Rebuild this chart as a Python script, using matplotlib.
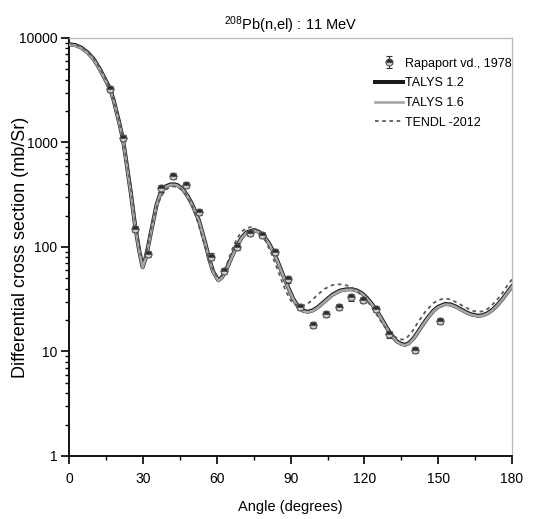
import numpy as np
import matplotlib
matplotlib.use("Agg")
import matplotlib.pyplot as plt
from matplotlib.ticker import FixedLocator, LogLocator, NullFormatter, FixedFormatter

plt.rcParams["font.family"] = ["Liberation Sans", "DejaVu Sans"]

# experimental data (Rapaport vd., 1978)
exp_angle = [16.6, 21.7, 26.9, 31.9, 37.1, 42.3, 47.5, 52.7, 57.7, 62.7, 68.1, 73.3,
             78.5, 83.6, 88.8, 93.8, 99.0, 104.2, 109.5, 114.5, 119.6, 124.8, 130.0,
             140.4, 150.8]
exp_xs = [3250, 1110, 149, 86, 365, 477, 394, 216, 81, 59, 101, 137,
          130, 90, 49, 26.8, 17.9, 22.9, 26.8, 33, 31.1, 25.4, 14.6,
          10.3, 19.7]
exp_err_frac = 0.07

# TALYS 1.2 calculation
talys12_angle = [0, 2.5, 5, 7.5, 10, 12.5, 15, 16.6, 18, 20, 21.7, 23, 25, 26.9, 28.5,
                 29.8, 31, 32, 33.5, 35.5, 37.1, 39, 41, 42.6, 44, 46, 48, 50, 52.7,
                 55, 57, 58.5, 60.6, 62, 64, 66, 68, 70, 72, 74.9, 77, 79, 81, 83,
                 85, 87, 89, 91, 93, 95, 97, 99, 101, 104, 107, 110, 112.5, 114.9,
                 117, 119, 121, 123, 125, 127, 129, 131, 133, 135, 136.6, 138, 140,
                 142, 144, 146, 148, 150, 152.8, 155, 157, 159, 161, 163, 166, 168,
                 170, 172, 174, 176, 178, 180]
talys12_xs = [8700, 8550, 8050, 7250, 6250, 5000, 3850, 3250, 2550, 1650, 1110, 700,
              330, 150, 90, 64, 78, 100, 150, 255, 330, 378, 396, 398, 390, 360, 310,
              255, 180, 115, 75, 58, 48, 51, 62, 80, 101, 122, 138, 145, 140, 128,
              110, 90, 70, 53, 41, 32, 27, 24.6, 24, 24.8, 26.5, 30.5, 35, 38.2, 39.3,
              39.4, 38.3, 36, 32.5, 28.5, 24.5, 20.5, 17, 14.3, 12.6, 11.8, 11.6, 12,
              13.4, 15.7, 18.5, 21.5, 24.5, 26.8, 28.5, 28.2, 27, 25.5, 24, 22.8,
              22, 22.2, 23.2, 25, 27.8, 31.5, 36.5, 42]

# TALYS 1.6 calculation (almost on top of 1.2)
talys16_angle = talys12_angle
talys16_xs = [v * 0.99 for v in talys12_xs]

# TENDL-2012
tendl_angle = [0, 2.5, 5, 7.5, 10, 12.5, 15, 17.5, 20, 22, 24, 26, 27.5, 29, 30.5,
               32, 34, 36, 38, 40, 42, 44, 46, 48, 50, 52, 54, 56, 58, 60, 62, 64,
               66, 68, 70, 72, 74, 76, 78, 80, 82, 84, 86, 88, 90, 92, 94, 96, 98,
               101, 104, 107, 110, 113, 116, 119, 122, 125, 128, 131, 134, 135.5,
               137, 139, 141, 143, 145, 148, 150, 152.5, 155, 158, 161, 164, 166,
               168, 170, 173, 176, 178, 180]
tendl_xs = [8950, 8650, 8150, 7350, 6350, 5100, 3950, 2800, 1700, 1030, 540, 250,
            140, 85, 78, 105, 180, 260, 325, 365, 380, 375, 350, 305, 245, 180, 125,
            88, 64, 52, 53, 68, 92, 118, 140, 152, 155, 148, 133, 112, 88, 67, 50,
            38, 31, 28, 27, 27.8, 30, 35, 40, 43.3, 44, 42.8, 39.5, 34.5, 28.5, 22.5,
            17.5, 14.5, 13.1, 13, 13.4, 15, 17.8, 21, 24.5, 29, 31, 32.2, 31.5, 29,
            26.5, 24.5, 24, 24.2, 25.5, 29.5, 36, 42.5, 49]


def main():
    fig = plt.figure(figsize=(5.39, 5.19), dpi=100)
    ax = fig.add_axes([0.1286, 0.1214, 0.8214, 0.8054])

    ax.plot(talys12_angle, talys12_xs, color="#1a1a1a", lw=2.9, label="TALYS 1.2", zorder=2)
    ax.plot(talys16_angle, talys16_xs, color="#a6a6a6", lw=1.9, label="TALYS 1.6", zorder=3)
    ax.plot(tendl_angle, tendl_xs, color="#5a5a5a", lw=1.3, ls=(0, (2.0, 2.0)),
            label="TENDL -2012", zorder=4)

    yerr = [v * exp_err_frac for v in exp_xs]
    ax.errorbar(exp_angle, exp_xs, yerr=yerr, fmt="o", ms=5, mfc="#2a2a2a",
                mec="#555555", mew=0.8, fillstyle="top", markerfacecoloralt="#d0d0d0",
                ecolor="#333333", elinewidth=0.8, capsize=2.5, capthick=0.8,
                label="Rapaport vd., 1978", zorder=5)

    ax.set_yscale("log")
    ax.set_xlim(0, 180)
    ax.set_ylim(1, 10000)
    ax.xaxis.set_major_locator(FixedLocator([0, 30, 60, 90, 120, 150, 180]))
    ax.xaxis.set_minor_locator(FixedLocator([15, 45, 75, 105, 135, 165]))
    ax.yaxis.set_major_locator(FixedLocator([1, 10, 100, 1000, 10000]))
    ax.yaxis.set_major_formatter(FixedFormatter(["1", "10", "100", "1000", "10000"]))
    ax.yaxis.set_minor_locator(LogLocator(base=10, subs=np.arange(2, 10), numticks=20))
    ax.yaxis.set_minor_formatter(NullFormatter())

    ax.tick_params(which="major", direction="out", length=5.5, width=1.2, labelsize=10)
    ax.tick_params(which="minor", direction="out", length=3, width=1.0)
    ax.tick_params(axis="x", pad=6)
    ax.tick_params(axis="y", pad=3)

    for side in ("left", "bottom"):
        ax.spines[side].set_linewidth(1.3)
        ax.spines[side].set_color("black")
    for side in ("top", "right"):
        ax.spines[side].set_linewidth(0.9)
        ax.spines[side].set_color("#b8b8b8")

    ax.set_xlabel("Angle (degrees)", fontsize=10.5)
    ax.xaxis.set_label_coords(0.5, -0.105)
    ax.set_ylabel("Differential cross section (mb/Sr)", fontsize=13)
    ax.yaxis.set_label_coords(-0.092, 0.5)
    ax.set_title("$\\mathregular{^{208}}$Pb(n,el) : 11 MeV", fontsize=10.5, pad=6)

    handles, labels = ax.get_legend_handles_labels()
    order = [3, 0, 1, 2]
    ax.legend([handles[i] for i in order], [labels[i] for i in order],
              loc="upper right", bbox_to_anchor=(1.025, 0.98), frameon=False,
              fontsize=9, handlelength=2.3, handletextpad=0.15, labelspacing=0.62)

    fig.savefig("out.png", dpi=100)


if __name__ == "__main__":
    main()
